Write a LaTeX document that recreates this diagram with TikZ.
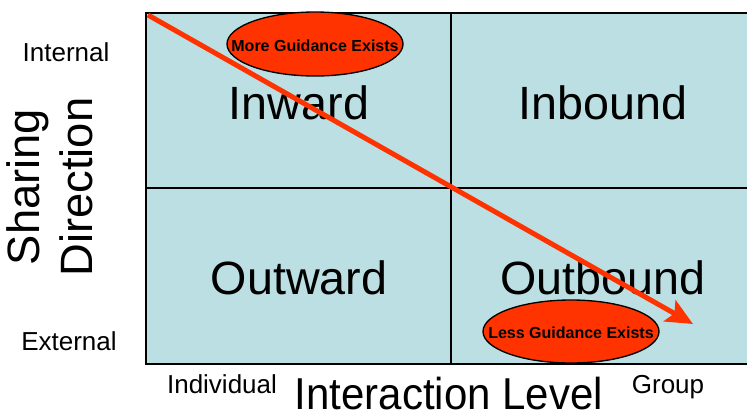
\documentclass[tikz,border=0pt]{standalone}
\usepackage{fontspec}
\setmainfont{Liberation Sans}
\usetikzlibrary{arrows.meta}
\definecolor{paleblue}{HTML}{BBDFE3}
\definecolor{hotred}{HTML}{FF3300}
\tikzset{quad/.style = {anchor = base, font = \fontsize{35}{40}\selectfont}}
\tikzset{tick/.style = {anchor = base, font = \fontsize{19.5}{23}\selectfont}}
\tikzset{blob/.style = {draw, line width = 1pt, fill = hotred}}
\tikzset{blobtext/.style = {inner sep = 0, font = \bfseries\fontsize{12}{14}\selectfont}}
\tikzset{trend/.style = {draw = hotred, line width = 3.75pt,
                         -{Stealth[length = 20pt, width = 18pt, inset = 4pt]}}}

\begin{document}
\begin{tikzpicture}[x=0.75pt, y=-0.75pt]
    \useasboundingbox (0, 0) rectangle (747, 412);
    \fill [paleblue] (146, 13) rectangle (749, 364);
    \draw [line width = 1.5pt] (146, 13) rectangle (749, 364);
    \draw [line width = 1.5pt] (451, 13) -- (451, 364);
    \draw [line width = 1.5pt] (146, 187.5) -- (749, 187.5);

    \node [quad] (inward) at (299, 119) {Inward};
    \node [quad] (inbound) at (603, 119) {Inbound};
    \node [quad] (outward) at (299, 294) {Outward};
    \node [quad] (outbound) at (603, 294) {Outbound};

    \draw [blob] (315, 44) ellipse [x radius = 88, y radius = 32];
    \node [blobtext] (more) at (315, 46) {More Guidance Exists};
    \draw [blob] (571, 331.5) ellipse [x radius = 88, y radius = 31.5];
    \node [blobtext] (less) at (571, 333) {Less Guidance Exists};

    \node [tick] (internal) at (66, 61) {Internal};
    \node [tick] (external) at (69, 350) {External};
    \node [tick] (individual) at (222, 393) {Individual};
    \node [tick] (group) at (668, 393) {Group};
    \node [anchor = base, inner sep = 0, xscale = 0.94, font = \fontsize{33.5}{38}\selectfont] (level) at (449, 409.5)
        {Interaction Level};
    \node [rotate = 90, align = center, font = \fontsize{34}{40}\selectfont] (direction) at (50, 187)
        {Sharing\\Direction};

    \coordinate (from) at (148, 15);
    \coordinate (to) at (693, 324);
    \draw [trend] (from) -- (to);
\end{tikzpicture}
\end{document}
